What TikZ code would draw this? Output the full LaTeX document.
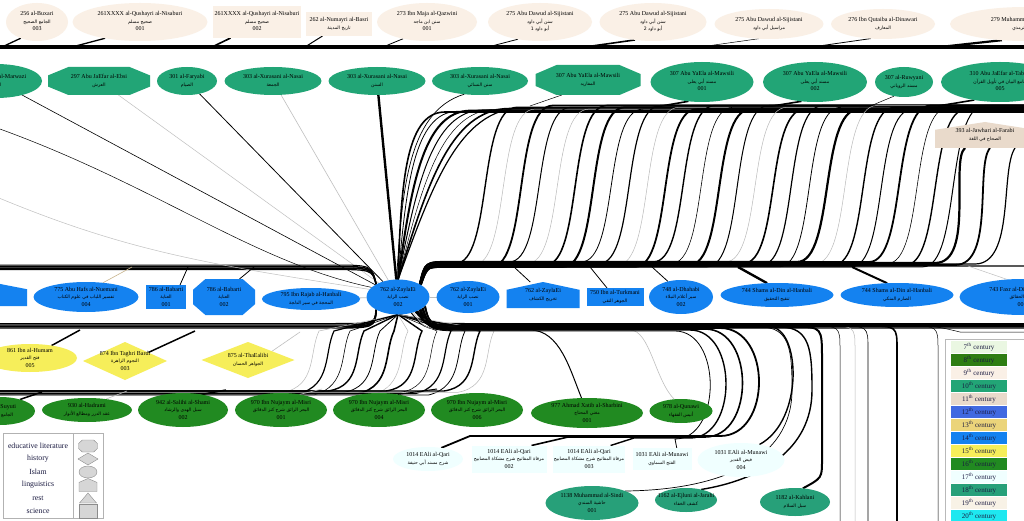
\documentclass[tikz,border=0pt]{standalone}
\usepackage{fontspec}
\setmainfont{Liberation Serif}
\newfontfamily\arabicfont[Script=Arabic]{DejaVu Sans}
\TeXXeTstate=1
\usetikzlibrary{shapes.geometric,calc}
\pgfdeclarelayer{bg}
\pgfsetlayers{bg,main}
\definecolor{c7}{HTML}{EAF7E2}
\definecolor{c8}{HTML}{2E7D12}
\definecolor{c9}{HTML}{FAF0E6}
\definecolor{c10}{HTML}{22A576}
\definecolor{c11}{HTML}{E9DACB}
\definecolor{c12}{HTML}{4169E1}
\definecolor{c13}{HTML}{EBD47A}
\definecolor{c14}{HTML}{1482F0}
\definecolor{c15}{HTML}{F6EE5A}
\definecolor{c16}{HTML}{218A21}
\definecolor{c17}{HTML}{F0FFFF}
\definecolor{c18}{HTML}{27A079}
\definecolor{c19}{HTML}{F8F2E6}
\definecolor{c20}{HTML}{1EE8F0}
\definecolor{tanc}{HTML}{C8B48C}
\definecolor{legt}{HTML}{1A1A40}
\definecolor{lgf}{HTML}{D6D6D6}
\definecolor{lgd}{HTML}{8C8C8C}
\newcommand\ar[1]{{\arabicfont\fontsize{4.6}{6}\selectfont\beginR#1\endR}}
\newcommand\lab[1]{\smash{\makebox[0pt]{\raisebox{-1.5pt}{\begin{tabular}{@{}c@{}}#1\end{tabular}}}}}
\newcommand\octn[7]{%
\fill[#6] ({#2-#4/2},{#3-#5/5}) -- ({#2-3*#4/10},{#3-#5/2}) -- ({#2+3*#4/10},{#3-#5/2}) -- ({#2+#4/2},{#3-#5/5}) -- ({#2+#4/2},{#3+#5/5}) -- ({#2+3*#4/10},{#3+#5/2}) -- ({#2-3*#4/10},{#3+#5/2}) -- ({#2-#4/2},{#3+#5/5}) -- cycle;
\node[ghost, sz={#4}{#5}] (#1) at (#2,#3) {\lab{#7}};}
\newcommand\housen[7]{%
\fill[#6] ({#2-#4/2},{#3+#5/2}) -- ({#2+#4/2},{#3+#5/2}) -- ({#2+#4/2},{#3-#5/5}) -- (#2,{#3-#5/2}) -- ({#2-#4/2},{#3-#5/5}) -- cycle;
\node[ghost, sz={#4}{#5}] (#1) at (#2,#3) {\lab{#7}};}
\newcommand\trin[7]{%
\fill[#6] ({#2-#4/2},{#3+#5/2}) -- ({#2+#4/2},{#3+#5/2}) -- (#2,{#3-#5/2}) -- cycle;
\node[ghost, sz={#4}{#5}] (#1) at (#2,#3) {\lab{#7}};}
\tikzset{
 nd/.style={inner sep=0pt, outer sep=0pt, font=\fontsize{6}{7.5}\selectfont},
 ell/.style={nd, ellipse, fill=#1},
 bx/.style={nd, rectangle, fill=#1},
 dia/.style={nd, diamond, fill=#1},
 ghost/.style={nd, rectangle},
 sz/.style 2 args={minimum width=#1pt, minimum height=#2pt},
 ek/.style={draw=black, line width=#1pt}, ek/.default=0.7,
 eg/.style={draw=gray!50, line width=#1pt}, eg/.default=0.5,
 legtx/.style={nd, font=\fontsize{7.8}{9}\selectfont, text=legt},
 cent/.style={nd, rectangle, fill=#1, sz={56}{11.5}, font=\fontsize{7}{8}\selectfont, text=legt},
}
\begin{document}
\begin{tikzpicture}[x=1pt,y=-1pt]
\useasboundingbox (0,0) rectangle (1024,521);
\clip (0,0) rectangle (1024,521);
% ---------- top row (9th century)
\node[ell=c9, sz={62}{38}] (T1) at (37,22) {\lab{256 al-Buxari\\\ar{الجامع الصحيح}\\003}};
\node[ell=c9, sz={135}{38}] (T2) at (140,22) {\lab{261XXXX al-Qushayri al-Nisaburi\\\ar{صحيح مسلم}\\001}};
\node[bx=c9, sz={88}{32}] (T3) at (257,22) {\lab{261XXXX al-Qushayri al-Nisaburi\\\ar{صحيح مسلم}\\002}};
\node[bx=c9, sz={66}{24}] (T4) at (339,24) {\lab{262 al-Numayri al-Basri\\\ar{تاريخ المدينة}}};
\node[ell=c9, sz={100}{38}] (T5) at (427,22) {\lab{273 Ibn Maja al-Qazwini\\\ar{سنن ابن ماجه}\\001}};
\node[ell=c9, sz={104}{38}] (T6) at (540,22) {\lab{275 Abu Dawud al-Sijistani\\\ar{سنن أبي داود}\\\ar{أبو داود 1}}};
\node[ell=c9, sz={107}{38}] (T7) at (653,22) {\lab{275 Abu Dawud al-Sijistani\\\ar{سنن أبي داود}\\\ar{أبو داود 2}}};
\node[ell=c9, sz={109}{30}] (T8) at (769,24) {\lab{275 Abu Dawud al-Sijistani\\\ar{مراسيل أبي داود}}};
\node[ell=c9, sz={104}{30}] (T9) at (883,24) {\lab{276 Ibn Qutaiba al-Dinawari\\\ar{المعارف}}};
\node[ell=c9, sz={150}{34}] (T10) at (1025,24) {\lab{279 Muhammad al-Tirmidhi\\\ar{سنن الترمذي}}};
% ---------- row 2 (10th century)
\node[ell=c10, sz={92}{34}] (R1) at (-4,81) {\lab{294 Ibn Nasr al-Marwazi\\\ar{السنة}}};
\octn{R2}{99}{81}{102}{28}{c10}{297 Abu JaEfar al-Ebsi\\\ar{العرش}}
\node[ell=c10, sz={60}{28}] (R3) at (187,81) {\lab{301 al-Faryabi\\\ar{الصيام}}};
\node[ell=c10, sz={97}{28}] (R4) at (273,81) {\lab{303 al-Xurasani al-Nasai\\\ar{الجمعة}}};
\node[ell=c10, sz={97}{28}] (R5) at (377,81) {\lab{303 al-Xurasani al-Nasai\\\ar{السنن}}};
\node[ell=c10, sz={96}{28}] (R6) at (480,81) {\lab{303 al-Xurasani al-Nasai\\\ar{سنن النسائي}}};
\octn{R7}{588}{80}{105}{30}{c10}{307 Abu YaEla al-Mawsili\\\ar{المفاريد}}
\node[ell=c10, sz={103}{40}] (R8) at (702,82) {\lab{307 Abu YaEla al-Mawsili\\\ar{مسند أبي يعلى}\\001}};
\node[ell=c10, sz={104}{40}] (R9) at (815,82) {\lab{307 Abu YaEla al-Mawsili\\\ar{مسند أبي يعلى}\\002}};
\node[ell=c10, sz={58}{30}] (R10) at (904,82) {\lab{307 al-Ruwyani\\\ar{مسند الروياني}}};
\node[ell=c10, sz={118}{40}] (R11) at (1000,82) {\lab{310 Abu JaEfar al-Tabari\\\ar{جامع البيان في تأويل القرآن}\\005}};
% ---------- 11th century
\housen{J}{985}{135}{100}{26}{c11}{393 al-Jawhari al-Farabi\\\ar{الصحاح في اللغة}}
% ---------- middle row (14th century)
\housen{M0}{-10}{294}{74}{24}{c14}{}
\node[ell=c14, sz={105}{30}] (M1) at (86,297) {\lab{775 Abu Hafs al-Nuemani\\\ar{تفسير اللباب في علوم الكتاب}\\004}};
\node[bx=c14, sz={40}{24}] (M2) at (166,297) {\lab{786 al-Babarti\\\ar{العناية}\\001}};
\octn{M3}{224}{297}{62}{36}{c14}{786 al-Babarti\\\ar{العناية}\\002}
\node[ell=c14, sz={98}{22}] (M4) at (311,299) {\lab{795 Ibn Rajab al-Hanbali\\\ar{المحجة في سير الدلجة}}};
\node[ell=c14, sz={63}{35}] (H) at (398,297) {\lab{762 al-ZaylaEi\\\ar{نصب الراية}\\002}};
\node[ell=c14, sz={63}{32}] (M5) at (468,297) {\lab{762 al-ZaylaEi\\\ar{نصب الراية}\\001}};
\housen{M6}{543}{295}{73}{26}{c14}{762 al-ZaylaEi\\\ar{تخريج الكشاف}}
\node[bx=c14, sz={57}{18}] (M7) at (615,297) {\lab{750 Ibn al-Turkmani\\\ar{الجوهر النقي}}};
\node[ell=c14, sz={64}{34}] (M8) at (681,297) {\lab{748 al-Dhahabi\\\ar{سير أعلام النبلاء}\\002}};
\node[ell=c14, sz={113}{24}] (M9) at (777,295) {\lab{744 Shams al-Din al-Hanbali\\\ar{تنقيح التحقيق}}};
\node[ell=c14, sz={113}{24}] (M10) at (897,295) {\lab{744 Shams al-Din al-Hanbali\\\ar{الصارم المنكي}}};
\node[ell=c14, sz={125}{36}] (M11) at (1022,297) {\lab{743 Faxr al-Din al-ZaylaEi\\\ar{تبيين الحقائق}\\001}};
% ---------- 15th century
\node[ell=c15, sz={94}{28}] (L1) at (30,358) {\lab{861 Ibn al-Humam\\\ar{فتح القدير}\\005}};
\node[dia=c15, sz={84}{38}] (L2) at (125,361) {\lab{874 Ibn Taghri Bardi\\\ar{النجوم الزاهرة}\\003}};
\node[dia=c15, sz={93}{36}] (L3) at (248,360) {\lab{875 al-ThaEalibi\\\ar{الجواهر الحسان}}};
% ---------- 16th century
\node[ell=c16, sz={70}{28}] (S0) at (0,411) {\lab{911 al-Suyuti\\\ar{الجامع الصغير}}};
\node[ell=c16, sz={90}{24}] (S1) at (87,410) {\lab{930 al-Hadrami\\\ar{عقد الدرر ومطالع الأنوار}}};
\node[ell=c16, sz={90}{34}] (S2) at (183,410) {\lab{942 al-Salihi al-Shami\\\ar{سبل الهدى والرشاد}\\002}};
\node[ell=c16, sz={92}{34}] (S3) at (281,410) {\lab{970 Ibn Nujaym al-Misri\\\ar{البحر الرائق شرح كنز الدقائق}\\001}};
\node[ell=c16, sz={92}{34}] (S4) at (379,410) {\lab{970 Ibn Nujaym al-Misri\\\ar{البحر الرائق شرح كنز الدقائق}\\004}};
\node[ell=c16, sz={92}{34}] (S5) at (477,410) {\lab{970 Ibn Nujaym al-Misri\\\ar{البحر الرائق شرح كنز الدقائق}\\006}};
\node[ell=c16, sz={112}{30}] (S6) at (587,413) {\lab{977 Ahmad Xatib al-Sharbini\\\ar{مغني المحتاج}\\001}};
\node[ell=c16, sz={63}{24}] (S7) at (681,411) {\lab{978 al-Qunawi\\\ar{أنيس الفقهاء}}};
% ---------- 17th century
\node[ell=c17, sz={70}{24}] (P1) at (428,459) {\lab{1014 EAli al-Qari\\\ar{شرح مسند أبي حنيفة}}};
\node[bx=c17, sz={75}{27}] (P2) at (509,459) {\lab{1014 EAli al-Qari\\\ar{مرقاة المفاتيح شرح مشكاة المصابيح}\\002}};
\node[bx=c17, sz={72}{27}] (P3) at (589,459) {\lab{1014 EAli al-Qari\\\ar{مرقاة المفاتيح شرح مشكاة المصابيح}\\003}};
\node[bx=c17, sz={59}{22}] (P4) at (662,459) {\lab{1031 EAli al-Munawi\\\ar{الفتح السماوي}}};
\node[ell=c17, sz={87}{34}] (P5) at (741,460) {\lab{1031 EAli al-Munawi\\\ar{فيض القدير}\\004}};
% ---------- 18th century
\node[ell=c18, sz={93}{34}] (Q1) at (592,503) {\lab{1138 Muhammad al-Sindi\\\ar{حاشية السندي}\\001}};
\node[ell=c18, sz={62}{24}] (Q2) at (686,500) {\lab{1162 al-Ejluni al-Jarahi\\\ar{كشف الخفاء}}};
\node[ell=c18, sz={70}{28}] (Q3) at (795,502) {\lab{1182 al-Kahlani\\\ar{سبل السلام}}};
% ---------- legend: shapes
\fill[white, draw=gray!60, line width=0.5pt] (3,433) rectangle (103,518);
\draw[gray!60, line width=0.5pt] (73,433) -- (73,518);
\node[legtx] (lgt1) at (38,446) {educative literature};
\node[legtx] (lgt2) at (38,459) {history};
\node[legtx] (lgt3) at (38,472) {Islam};
\node[legtx] (lgt4) at (38,485) {linguistics};
\node[legtx] (lgt5) at (38,498) {rest};
\node[legtx] (lgt6) at (38,511) {science};
\octn{lgO}{88}{446}{19}{12}{fill=lgf,draw=lgd}{}
\node[nd, diamond, fill=lgf, draw=lgd, sz={20}{12}] (lgD) at (88,459) {};
\node[nd, ellipse, fill=lgf, draw=lgd, sz={18}{12}] (lgE) at (88,472) {};
\housen{lgH}{88}{485}{18}{13}{fill=lgf,draw=lgd}{}
\node[nd, rectangle, fill=lgf, draw=lgd, sz={18}{14}] (lgB) at (88,511) {};
\trin{lgT}{88}{498}{17}{10}{fill=lgf,draw=lgd}{}
% ---------- legend: centuries
\fill[white, draw=gray!55, line width=0.5pt] (945,339) rectangle (1034,530);
\node[cent=c7] (cen7) at (979,347) {7\textsuperscript{th} century};
\node[cent=c8] (cen8) at (979,360) {8\textsuperscript{th} century};
\node[cent=c9] (cen9) at (979,373) {9\textsuperscript{th} century};
\node[cent=c10] (cen10) at (979,386) {10\textsuperscript{th} century};
\node[cent=c11] (cen11) at (979,399) {11\textsuperscript{th} century};
\node[cent=c12] (cen12) at (979,412) {12\textsuperscript{th} century};
\node[cent=c13] (cen13) at (979,425) {13\textsuperscript{th} century};
\node[cent=c14] (cen14) at (979,438) {14\textsuperscript{th} century};
\node[cent=c15] (cen15) at (979,451) {15\textsuperscript{th} century};
\node[cent=c16] (cen16) at (979,464) {16\textsuperscript{th} century};
\node[cent=c17] (cen17) at (979,477) {17\textsuperscript{th} century};
\node[cent=c18] (cen18) at (979,490) {18\textsuperscript{th} century};
\node[cent=c19] (cen19) at (979,503) {19\textsuperscript{th} century};
\node[cent=c20] (cen20) at (979,516) {20\textsuperscript{th} century};
% ================= connectors (background layer)
\begin{pgfonlayer}{bg}
\clip (0,0) rectangle (1024,521);
\fill[white] (0,0) rectangle (1024,521);
\coordinate (TL) at (-20,47); \coordinate (TR) at (1044,47);
\coordinate (R2R) at (1044,108);
\coordinate (ML) at (-20,267); \coordinate (MR) at (1044,266);
\coordinate (BL) at (-20,326); \coordinate (BR) at (1044,326);
\coordinate (S16L) at (-20,393);
\coordinate (LA) at (-20,122); \coordinate (LB) at (-20,190);
\coordinate (RT) at (1044,332);
% top bundle
\foreach \o/\w in {-1.6/1.2,-0.5/1.4,0.6/1.4,1.7/1.0} \draw[ek=\w] ([yshift=\o pt]TL) -- ([yshift=\o pt]TR);
\coordinate (tb1) at (2,47);    \draw[ek=1.3] (tb1) -- (T1.225);
\coordinate (tb2) at (72,47);   \draw[ek=1.3] (tb2) -- (T2.205);
\coordinate (tb3) at (212,47);  \draw[ek=1.6] (tb3) -- ($(T3.south west)!0.2!(T3.south east)$);
\coordinate (tb4) at (305,47);  \draw[ek=1.0] (tb4) -- ($(T4.south west)!0.25!(T4.south east)$);
\coordinate (tb5) at (383,47);  \draw[ek=0.8] (tb5) -- (T5.215);
\coordinate (tb6) at (488,47);  \draw[ek=0.8] (tb6) -- (T6.218);
\coordinate (tb7) at (585,47);  \draw[ek=1.6] (tb7) -- (T7.225);
\coordinate (tb8) at (700,47);  \draw[ek=0.5] (tb8) -- (T8.235);
\coordinate (tb9) at (812,47);  \draw[ek=0.8] (tb9) -- (T9.230);
\coordinate (tb10) at (940,47); \draw[ek=2.2] (tb10) -- (T10.215);
% row 2 connectors to the right bundle
\coordinate (rb7) at (530,106);  \draw[ek=0.5] (rb7) -- ($(R7.south west)!0.25!(R7.south east)$);
\coordinate (rb8) at (650,108);  \draw[ek=1.6] (rb8) -- (R8.235);
\coordinate (rb9) at (760,108);  \draw[ek=1.6] (rb9) -- (R9.235);
\coordinate (rb10) at (868,107); \draw[ek=0.5] (rb10) -- (R10.235);
\coordinate (rb11) at (938,106); \draw[ek=1.6] (rb11) -- (R11.215);
% row 2 left nodes to hub
\draw[ek=0.6] (R1) -- (H);
\draw[eg=0.5] (R2) -- (H);
\draw[ek=0.8] (R3) -- (H);
\draw[eg=0.6] (R4) -- (H);
\draw[ek=2.4] (R5) -- (H);
\draw[ek=0.7] (R6.220) .. controls (405,112) and (402,200) .. (H.95);
% arcs from hub top to the upper bundle
\foreach \k/\w in {0/1.6,1/0.8,2/2.0,3/1.0,4/0.5,5/1.6,6/1.2} {
  \pgfmathsetmacro\ca{401+5*\k}
  \pgfmathsetmacro\cb{404+9*\k}
  \pgfmathsetmacro\yt{112-0.7*\k}
  \pgfmathsetmacro\xe{445+13*\k}
  \pgfmathsetmacro\dy{108-\yt}
  \draw[ek=\w] (H.north) .. controls (\ca,190) and (\cb,\yt) .. (\xe,\yt) -- ([yshift=\dy pt]R2R);
}
% S-shaped fan
\foreach \xb/\w/\c [count=\k] in {455/1.4/black,473/0.5/gray!55,491/1.8/black,509/1.0/black,527/0.5/gray!55,545/1.6/black,563/2.0/black,581/0.8/black,599/1.2/black,617/0.5/gray!55,635/1.8/black,653/1.4/black,671/0.6/black,689/2.0/black,707/1.0/black,725/0.5/gray!55,743/1.6/black,761/1.2/black,779/0.8/black,797/2.2/black,815/0.5/gray!55,833/1.4/black,851/1.0/black,869/1.8/black,887/0.6/black,905/1.4/black,923/1.0/black} {
  \pgfmathsetmacro\yb{262+mod(\k,4)*1.6}
  \pgfmathsetmacro\yt{105.5+mod(\k,3)*1.8}
  \pgfmathsetmacro\dy{108-\yt}
  \pgfmathsetmacro\xc{\xb+38}
  \pgfmathsetmacro\xd{\xb+22}
  \pgfmathsetmacro\xe{\xb+62}
  \draw[draw=\c, line width=\w pt] (H.30) .. controls (425,\yb) .. (450,\yb) -- (\xb,\yb) .. controls (\xc,\yb) and (\xd,\yt) .. (\xe,\yt) -- ([yshift=\dy pt]R2R);
}
% to al-Jawhari and further right
\draw[ek=2.2] (H.28) .. controls (428,263) .. (450,263) -- (935,263) .. controls (975,263) and (950,160) .. ($(J.south west)!0.3!(J.south east)$);
\draw[ek=1.8] (H.28) .. controls (428,265) .. (450,265) -- (955,265) .. controls (995,265) and (975,165) .. ($(J.south west)!0.55!(J.south east)$);
\draw[ek=1.2] (H.28) .. controls (428,264) .. (450,264) -- (975,264) .. controls (1015,264) and (1000,170) .. ($(J.south west)!0.8!(J.south east)$);
\draw[ek=1.4] (H.28) .. controls (428,266) .. (450,266) -- (MR);
% left middle bundle
\foreach \o/\w in {-2.5/1.2,-1/1.5,0.5/1.5,2/1.0} \draw[ek=\w] ([yshift=\o pt]ML) -- (330,{267-\o}) .. controls (372,{267-\o}) .. (H.150);
\draw[ek=0.5] (LA) .. controls (150,180) and (250,262) .. (H.160);
\draw[eg=0.5] (LB) .. controls (120,250) and (200,263) .. (H.165);
% middle row connectors
\coordinate (mb1) at (132,267);  \draw[draw=tanc, line width=0.6pt] (M1.40) -- (mb1);
\coordinate (mb2) at (188,267);  \draw[ek=0.8] ($(M2.north)!0.7!(M2.north east)$) -- (mb2);
\coordinate (mb3) at (254,267);  \draw[ek=0.8] ($(M3.north)!0.5!(M3.north east)$) -- (mb3);
\coordinate (mb6) at (514,267);  \draw[ek=0.8] ($(M6.north)!0.35!(M6.north west)$) -- (mb6);
\coordinate (mb7) at (590,267);  \draw[ek=0.8] ($(M7.north)!0.28!(M7.north west)$) -- (mb7);
\coordinate (mb8) at (652,267);  \draw[ek=0.8] (M8.130) -- (mb8);
\coordinate (mb9) at (738,267);  \draw[ek=2.4] (M9.130) -- (mb9);
\coordinate (mb10) at (852,267); \draw[ek=2.0] (M10.130) -- (mb10);
\coordinate (mb11) at (968,266); \draw[eg=0.5] (M11.130) -- (mb11);
\draw[eg=0.8] (M4) -- (H);
\draw[eg=0.8] (M5) -- (H);
% lower bundle
\foreach \o/\w in {-2/1.4,-0.5/1.8,1/1.4,2.5/1.0} \draw[ek=\w] ([yshift=\o pt]BL) -- (330,{326-\o}) .. controls (375,{326-\o}) .. (H.210);
\foreach \o/\w in {-2/1.2,-0.5/1.8,1/1.6,2.5/1.0} \draw[ek=\w] (H.330) .. controls (425,{326-\o}) .. (470,{326-\o}) -- ([yshift=\o pt]BR);
% 15th century connectors
\coordinate (lb1) at (80,330);  \draw[ek=1.5] (L1.30) -- (lb1);
\coordinate (lb2) at (195,331); \draw[ek=1.5] (L2.20) -- (lb2);
\coordinate (lb3) at (300,332); \draw[eg=0.6] (L3.20) -- (lb3);
% lower S-fan to the 16th century bundle
\foreach \xc/\w/\c [count=\k] in {305/0.5/gray!55,320/1.2/black,336/0.6/black,350/1.4/black,366/0.8/black,380/1.6/black,394/0.5/gray!55,408/1.4/black,423/0.5/black,437/1.2/black,451/0.8/black,466/1.4/black,480/0.5/gray!55} {
  \pgfmathsetmacro\ys{391+mod(\k,4)*1.3}
  \pgfmathsetmacro\dy{393-\ys}
  \pgfmathsetmacro\xa{\xc+14}
  \pgfmathsetmacro\xb{\xc+4}
  \pgfmathsetmacro\xd{\xc+12}
  \pgfmathsetmacro\xe{\xc-22}
  \draw[draw=\c, line width=\w pt] (H.south) -- (\xa,331) .. controls (\xb,352) and (\xd,386) .. (\xe,\ys) -- ([yshift=\dy pt]S16L);
}
% 16th century connectors
\coordinate (sb0) at (42,392);  \draw[ek=1.5] (S0.30) -- (sb0);
\coordinate (sb1) at (127,391); \draw[eg=0.6] (S1.30) -- (sb1);
\coordinate (sb2) at (226,390); \draw[ek=1.5] (S2.40) -- (sb2);
\coordinate (sb3) at (322,389); \draw[eg=0.6] (S3.40) -- (sb3);
\coordinate (sb4) at (437,389); \draw[ek=1.0] (S4.40) -- (sb4);
\draw[ek=1.0] (H.310) .. controls (425,330) .. (470,330) -- (530,330) .. controls (560,330) and (570,370) .. (S6.110);
\draw[eg=0.6] (H.315) .. controls (425,330) .. (470,330) -- (630,330) .. controls (650,330) and (655,380) .. (S7.120);
% curves down to the 17th century
\draw[ek=1.8] (H.320) .. controls (430,328) .. (470,328) -- (720,328) .. controls (772,328) and (772,436) .. (720,436) -- (470,436) -- (P1.40);
\draw[ek=1.6] (H.322) .. controls (430,329) .. (470,329) -- (705,329) .. controls (755,329) and (755,437) .. (705,437) -- (568,437) -- ($(P2.north)!0.6!(P2.north east)$);
\draw[ek=1.4] (H.324) .. controls (430,330) .. (470,330) -- (690,330) .. controls (738,330) and (738,438) .. (690,438) -- (634,438) -- ($(P3.north)!0.6!(P3.north east)$);
\draw[ek=0.8] (H.326) .. controls (430,331) .. (470,331) -- (675,331) .. controls (722,331) and (722,439) .. (675,439) -- ($(P4.north)!0.5!(P4.north east)$);
\draw[ek=1.4] (H.330) .. controls (430,327) .. (470,327) -- (770,327) .. controls (800,327) and (805,420) .. (P5.40);
% 18th century and below
\draw[ek=0.7] (H.332) .. controls (430,327) .. (470,327) -- (760,327) .. controls (790,327) and (792,350) .. (792,390) .. controls (792,460) and (720,490) .. (Q1.20);
\draw[ek=1.4] (H.334) .. controls (430,327) .. (470,327) -- (780,327) .. controls (810,327) and (812,350) .. (812,390) .. controls (812,450) and (760,480) .. (Q2.35);
\draw[ek=2.0] (H.336) .. controls (430,327) .. (470,327) -- (795,327) .. controls (822,327) .. (822,360) -- (822,460) .. controls (822,478) .. (Q3.60);
\foreach \xv/\w/\c/\a in {840/0.5/black/338,855/0.5/gray!55/339,868/0.6/black/340,897/1.6/black/341,938/0.5/black/342} {
  \coordinate (V\xv) at (\xv,530);
  \pgfmathsetmacro\xs{\xv-30}
  \draw[draw=\c, line width=\w pt] (H.\a) .. controls (430,326) .. (470,326) -- (\xs,326) .. controls (\xv,326) .. (\xv,350) -- (V\xv);
}
\draw[ek=0.5] (H.343) .. controls (430,326) .. (470,326) -- (900,326) .. controls (935,326) .. (960,332) -- (RT);
\end{pgfonlayer}
\end{tikzpicture}
\end{document}
